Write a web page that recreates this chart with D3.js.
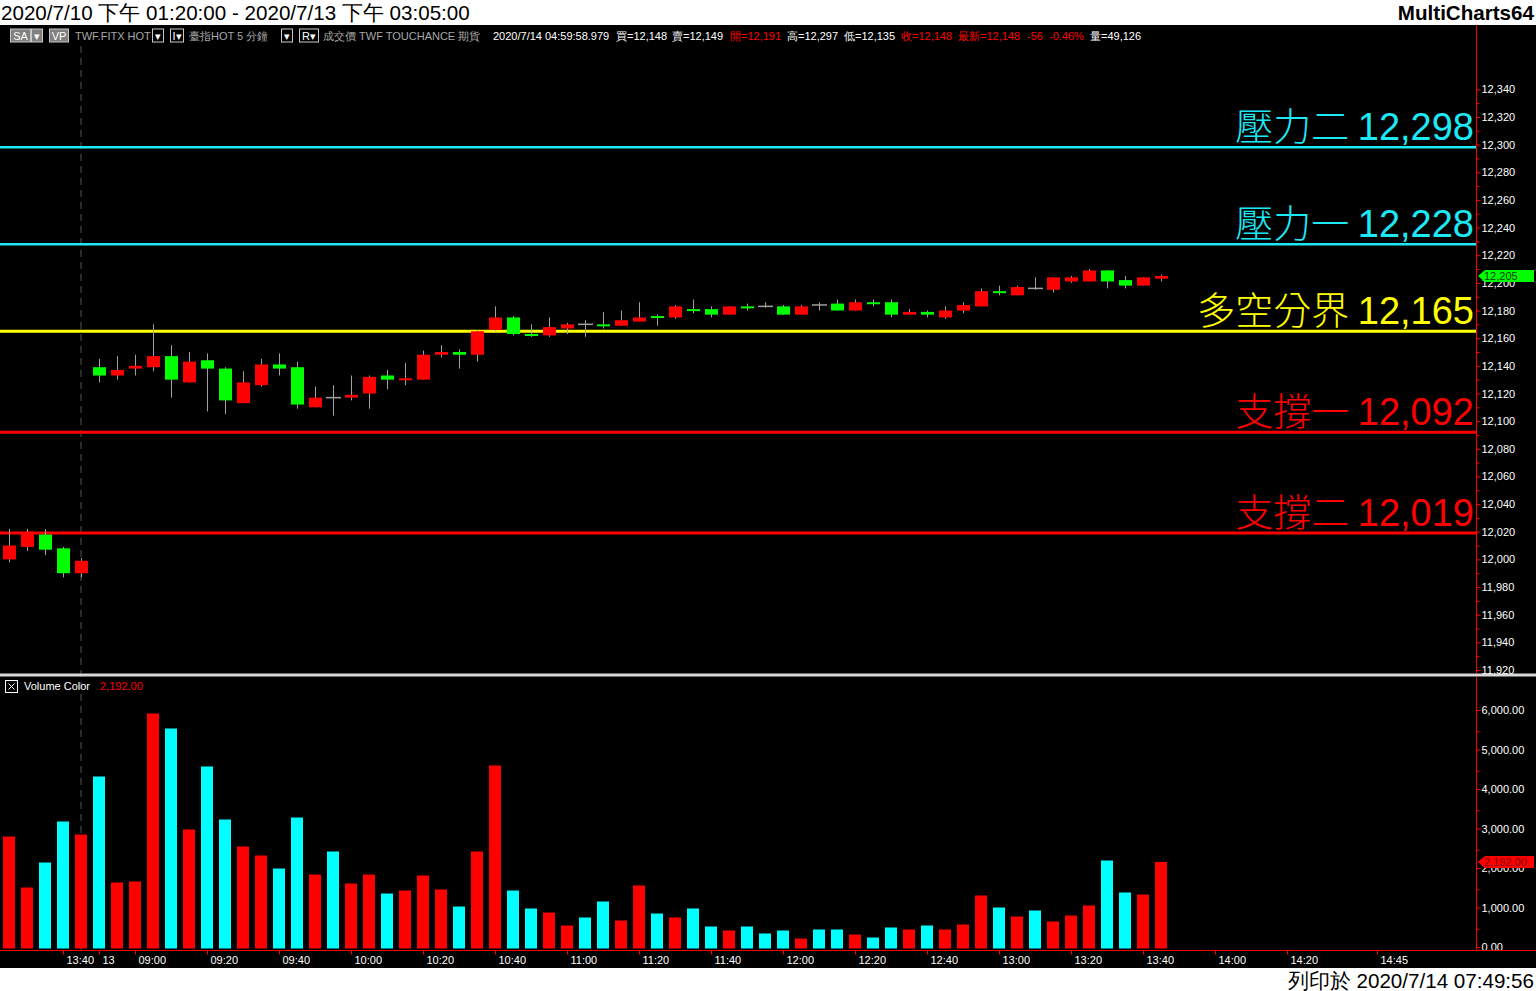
<!DOCTYPE html>
<html><head><meta charset="utf-8">
<script src="https://cdn.jsdelivr.net/npm/d3@7"></script>
<style>
html,body{margin:0;padding:0;background:#fff;overflow:hidden}
svg{display:block}
text{font-family:"Liberation Sans",Arial,sans-serif}
</style></head><body>
<svg id="c" width="1536" height="991"></svg>
<script>
// ---------- DATA ----------
const barTimes = ["13:25","13:30","13:35","13:40","13:45",
 "08:50","08:55","09:00","09:05","09:10","09:15","09:20","09:25","09:30","09:35","09:40","09:45",
 "09:50","09:55","10:00","10:05","10:10","10:15","10:20","10:25","10:30","10:35","10:40","10:45",
 "10:50","10:55","11:00","11:05","11:10","11:15","11:20","11:25","11:30","11:35","11:40","11:45",
 "11:50","11:55","12:00","12:05","12:10","12:15","12:20","12:25","12:30","12:35","12:40","12:45",
 "12:50","12:55","13:00","13:05","13:10","13:15","13:20","13:25","13:30","13:35","13:40","13:45"];
const opens  = [12000,12009,12018,12008,11990,12139,12133,12138,12139,12147,12128,12144,12138,12113,12126,12141,12139,12110,12117,12117,12120,12133,12130,12130,12148,12150,12148,12166,12175,12163,12162,12167,12170,12170,12169,12172,12176,12175,12181,12181,12177,12183,12183,12183,12177,12184,12185,12180,12186,12186,12177,12179,12175,12180,12183,12194,12191,12196,12195,12201,12201,12209,12202,12198,12203];
const highs  = [12022,12022,12022,12009,12001,12145,12147,12148,12170,12155,12150,12149,12139,12136,12145,12149,12143,12125,12126,12133,12133,12137,12142,12151,12155,12152,12166,12183,12176,12170,12175,12171,12173,12179,12180,12186,12177,12184,12188,12183,12183,12185,12186,12184,12184,12186,12188,12188,12188,12188,12181,12180,12183,12186,12196,12198,12198,12204,12204,12205,12210,12209,12205,12204,12206];
const lows   = [11998,12006,12003,11987,11987,12128,12130,12133,12136,12117,12128,12107,12105,12113,12125,12133,12109,12110,12104,12115,12109,12123,12126,12130,12146,12138,12143,12165,12162,12161,12161,12163,12161,12167,12169,12172,12169,12174,12178,12175,12177,12180,12182,12177,12177,12180,12180,12180,12183,12175,12177,12175,12174,12178,12183,12191,12191,12195,12193,12200,12201,12196,12196,12198,12201];
const closes = [12010,12020,12007,11990,11999,12133,12137,12140,12147,12130,12143,12138,12115,12128,12141,12138,12112,12117,12117,12119,12132,12130,12131,12148,12150,12148,12165,12175,12163,12162,12168,12170,12170,12169,12173,12175,12175,12183,12180,12177,12183,12182,12183,12177,12183,12184,12180,12186,12185,12177,12179,12177,12180,12184,12194,12193,12197,12196,12204,12204,12209,12201,12198,12204,12205];
const volumes = [2835,1544,2177,3215,2886,4354,1671,1696,5949,5570,3013,4608,3266,2582,2354,2025,3316,1873,2456,1646,1873,1392,1468,1848,1494,1063,2456,4633,1468,1013,911,582,785,1190,709,1595,886,785,1013,557,456,557,380,456,253,481,481,354,278,532,481,582,481,608,1342,1038,810,962,684,835,1089,2228,1418,1367,2192];
const levelNames  = ["壓力二","壓力一","多空分界","支撐一","支撐二"];
const levelValues = [12298,12228,12165,12092,12019];
const priceTicks = [11920,11940,11960,11980,12000,12020,12040,12060,12080,12100,12120,12140,12160,12180,12200,12220,12240,12260,12280,12300,12320,12340];
const volTicks = [0,1000,2000,3000,4000,5000,6000];
const xTickIndex  = [3,5,7,11,15,19,23,27,31,35,39,43,47,51,55,59,63,67,71,76];
const xTickLabels = ["13:40","13","09:00","09:20","09:40","10:00","10:20","10:40","11:00","11:20","11:40","12:00","12:20","12:40","13:00","13:20","13:40","14:00","14:20","14:45"];
const sessionBreakIndex = 4;
const lastPrice = 12205, lastVolume = 2192;

// ---------- STYLE ----------
const levelColors = ["#1de9f6","#1de9f6","#ffff00","#ff0000","#ff0000"];
const UP="#ff0000", DOWN="#00ff00", DOJI="#a0a0a0", WICK="#a0a0a0";
const VUP="#ff0000", VDOWN="#00ffff";

const svg = d3.select("#c");
const W=1536, H=991, AX=1476;
const x = d3.scaleLinear().domain([0,1]).range([9,27]);
const y = d3.scaleLinear().domain([11920,12340]).range([670,89.3]);
const yv = d3.scaleLinear().domain([0,6000]).range([948.5,711.5]);

// backgrounds
svg.append("rect").attr("x",0).attr("y",0).attr("width",W).attr("height",H).attr("fill","#fff");
svg.append("rect").attr("x",0).attr("y",25).attr("width",W).attr("height",943).attr("fill","#000");

// title
svg.append("text").attr("x",1).attr("y",20).attr("font-size",20.6).attr("fill","#000")
  .text("2020/7/10 下午 01:20:00 - 2020/7/13 下午 03:05:00");
svg.append("text").attr("x",1534).attr("y",20).attr("font-size",20.6).attr("font-weight","bold")
  .attr("text-anchor","end").attr("fill","#000").text("MultiCharts64");
svg.append("text").attr("x",1534).attr("y",988).attr("font-size",20.6).attr("text-anchor","end")
  .attr("fill","#000").text("列印於 2020/7/14 07:49:56");

// info bar
const info = svg.append("g").attr("font-size",11);
function box(x0,w,label,bg){
  info.append("rect").attr("x",x0).attr("y",29).attr("width",w).attr("height",13)
    .attr("fill",bg||"#000").attr("stroke","#c8c8c8").attr("stroke-width",1);
  info.append("text").attr("x",x0+w/2).attr("y",40).attr("text-anchor","middle").attr("fill","#fff").text(label);
}
box(10.5,20,"SA","#808080"); box(31.5,11,"▾","#808080"); box(49.5,19,"VP","#808080");
box(152.5,11,"▾"); box(170.5,13,"I▾"); box(281.5,11,"▾"); box(299.5,19,"R▾");
const infoTexts = [
 [75,"TWF.FITX HOT","#a8a8a8"],[189,"臺指HOT  5 分鐘","#a8a8a8"],[323,"成交價  TWF  TOUCHANCE  期貨","#a8a8a8"],
 [493,"2020/7/14  04:59:58.979","#fff"],[616,"買=12,148","#fff"],[672,"賣=12,149","#fff"],[730,"開=12,191","#ff0000"],
 [787,"高=12,297","#fff"],[844,"低=12,135","#fff"],[901,"收=12,148","#ff0000"],[958,"最新=12,148","#ff0000"],
 [1027,"-56","#ff0000"],[1049,"-0.46%","#ff0000"],[1090,"量=49,126","#fff"]];
infoTexts.forEach(t=>info.append("text").attr("x",t[0]).attr("y",40).attr("fill",t[2]).text(t[1]));

// session break dashed line
svg.append("line").attr("x1",x(sessionBreakIndex)).attr("x2",x(sessionBreakIndex)).attr("y1",46).attr("y2",950)
  .attr("stroke","#555").attr("stroke-dasharray","7,5").attr("stroke-width",1);

// level lines + labels
levelValues.forEach((v,i)=>{
  svg.append("line").attr("x1",0).attr("x2",AX).attr("y1",y(v)).attr("y2",y(v))
    .attr("stroke",levelColors[i]).attr("stroke-width",i<2?2.5:3);
  const t = svg.append("text").attr("x",1474).attr("y",y(v)-7).attr("text-anchor","end")
    .attr("font-size",38).attr("fill",levelColors[i]);
  t.append("tspan").attr("font-family","'Noto Sans CJK TC'").attr("font-weight",300).text(levelNames[i]+" ");
  t.append("tspan").text(d3.format(",")(v));
});

// candles
const idx = d3.range(opens.length);
const cg = svg.append("g");
cg.selectAll("line.w").data(idx).join("line").attr("class","w")
  .attr("x1",i=>x(i)+0.5).attr("x2",i=>x(i)+0.5).attr("y1",i=>y(highs[i])).attr("y2",i=>y(lows[i]))
  .attr("stroke",WICK).attr("stroke-width",1);
cg.selectAll("rect.b").data(idx.filter(i=>opens[i]!==closes[i])).join("rect").attr("class","b")
  .attr("x",i=>x(i)-6).attr("width",13)
  .attr("y",i=>y(Math.max(opens[i],closes[i])))
  .attr("height",i=>Math.max(2,Math.abs(y(opens[i])-y(closes[i]))))
  .attr("fill",i=>closes[i]>opens[i]?UP:DOWN);
cg.selectAll("line.d").data(idx.filter(i=>opens[i]===closes[i])).join("line").attr("class","d")
  .attr("x1",i=>x(i)-7).attr("x2",i=>x(i)+8).attr("y1",i=>y(opens[i])).attr("y2",i=>y(opens[i]))
  .attr("stroke",DOJI).attr("stroke-width",1.5);

// panel separator
svg.append("rect").attr("x",0).attr("y",673.5).attr("width",W).attr("height",3).attr("fill","#d8d8d8");

// volume bars
svg.append("g").selectAll("rect").data(idx).join("rect")
  .attr("x",i=>x(i)-6).attr("width",12)
  .attr("y",i=>yv(volumes[i])).attr("height",i=>yv(0)-yv(volumes[i]))
  .attr("fill",i=>closes[i]>opens[i]?VUP:VDOWN);

// volume header
svg.append("rect").attr("x",5.5).attr("y",680.5).attr("width",12).attr("height",12).attr("fill","none").attr("stroke","#fff");
svg.append("path").attr("d","M8.5,683.5L14.5,689.5M14.5,683.5L8.5,689.5").attr("stroke","#fff");
svg.append("text").attr("x",24).attr("y",690).attr("font-size",11).attr("fill","#fff").text("Volume Color");
svg.append("text").attr("x",100).attr("y",690).attr("font-size",11).attr("fill","#ff0000").text(d3.format(",.2f")(lastVolume));

// right axes
function styleAxis(g){
  g.select(".domain").remove();
  g.selectAll(".tick line").attr("stroke","#ff0000");
  g.selectAll(".tick text").attr("fill","#fff").attr("font-size",11).attr("font-family","'Liberation Sans',Arial,sans-serif");
}
svg.append("line").attr("x1",AX+0.5).attr("x2",AX+0.5).attr("y1",25).attr("y2",673).attr("stroke","#ff0000");
svg.append("line").attr("x1",AX+0.5).attr("x2",AX+0.5).attr("y1",677).attr("y2",950).attr("stroke","#ff0000");
const minorP = d3.range(11930,12350,20);
svg.append("g").attr("transform",`translate(${AX+0.5},0)`)
  .call(d3.axisRight(y).tickValues(minorP).tickSize(3).tickFormat(""))
  .call(styleAxis);
svg.append("g").attr("transform",`translate(${AX+0.5},0)`)
  .call(d3.axisRight(y).tickValues(priceTicks).tickSize(4).tickPadding(1).tickFormat(d3.format(",")))
  .call(styleAxis);
svg.append("g").attr("transform",`translate(${AX+0.5},0)`)
  .call(d3.axisRight(yv).tickValues(d3.range(500,6500,1000)).tickSize(3).tickFormat(""))
  .call(styleAxis);
svg.append("g").attr("transform",`translate(${AX+0.5},-1.5)`)
  .call(d3.axisRight(yv).tickValues(volTicks).tickSize(4).tickPadding(1).tickFormat(d3.format(",.2f")))
  .call(styleAxis);

// last price / volume tags
function tag(yy,fill,txt,tc){
  svg.append("path").attr("d",`M${AX+2},${yy} L${AX+9},${yy-6} L1534,${yy-6} L1534,${yy+6} L${AX+9},${yy+6}Z`).attr("fill",fill);
  svg.append("text").attr("x",AX+8).attr("y",yy+4).attr("font-size",11).attr("fill",tc).text(txt);
}
tag(y(lastPrice),"#00ff00",d3.format(",")(lastPrice),"#0a3a0a");
tag(yv(lastVolume),"#ff0000",d3.format(",.2f")(lastVolume),"#7a0000");

// x axis
svg.append("line").attr("x1",0).attr("x2",W).attr("y1",950.5).attr("y2",950.5).attr("stroke","#ff0000");
const xa = svg.append("g").attr("transform","translate(0,950.5)")
  .call(d3.axisBottom(x).tickValues(xTickIndex).tickSize(4).tickFormat((d,i)=>xTickLabels[i]));
xa.select(".domain").remove();
xa.selectAll(".tick line").attr("stroke","#ff0000");
xa.selectAll(".tick text").attr("fill","#fff").attr("font-size",11).attr("text-anchor","start")
  .attr("x",3).attr("y",6).attr("dy","0.71em").attr("font-family","'Liberation Sans',Arial,sans-serif");
</script>
</body></html>
